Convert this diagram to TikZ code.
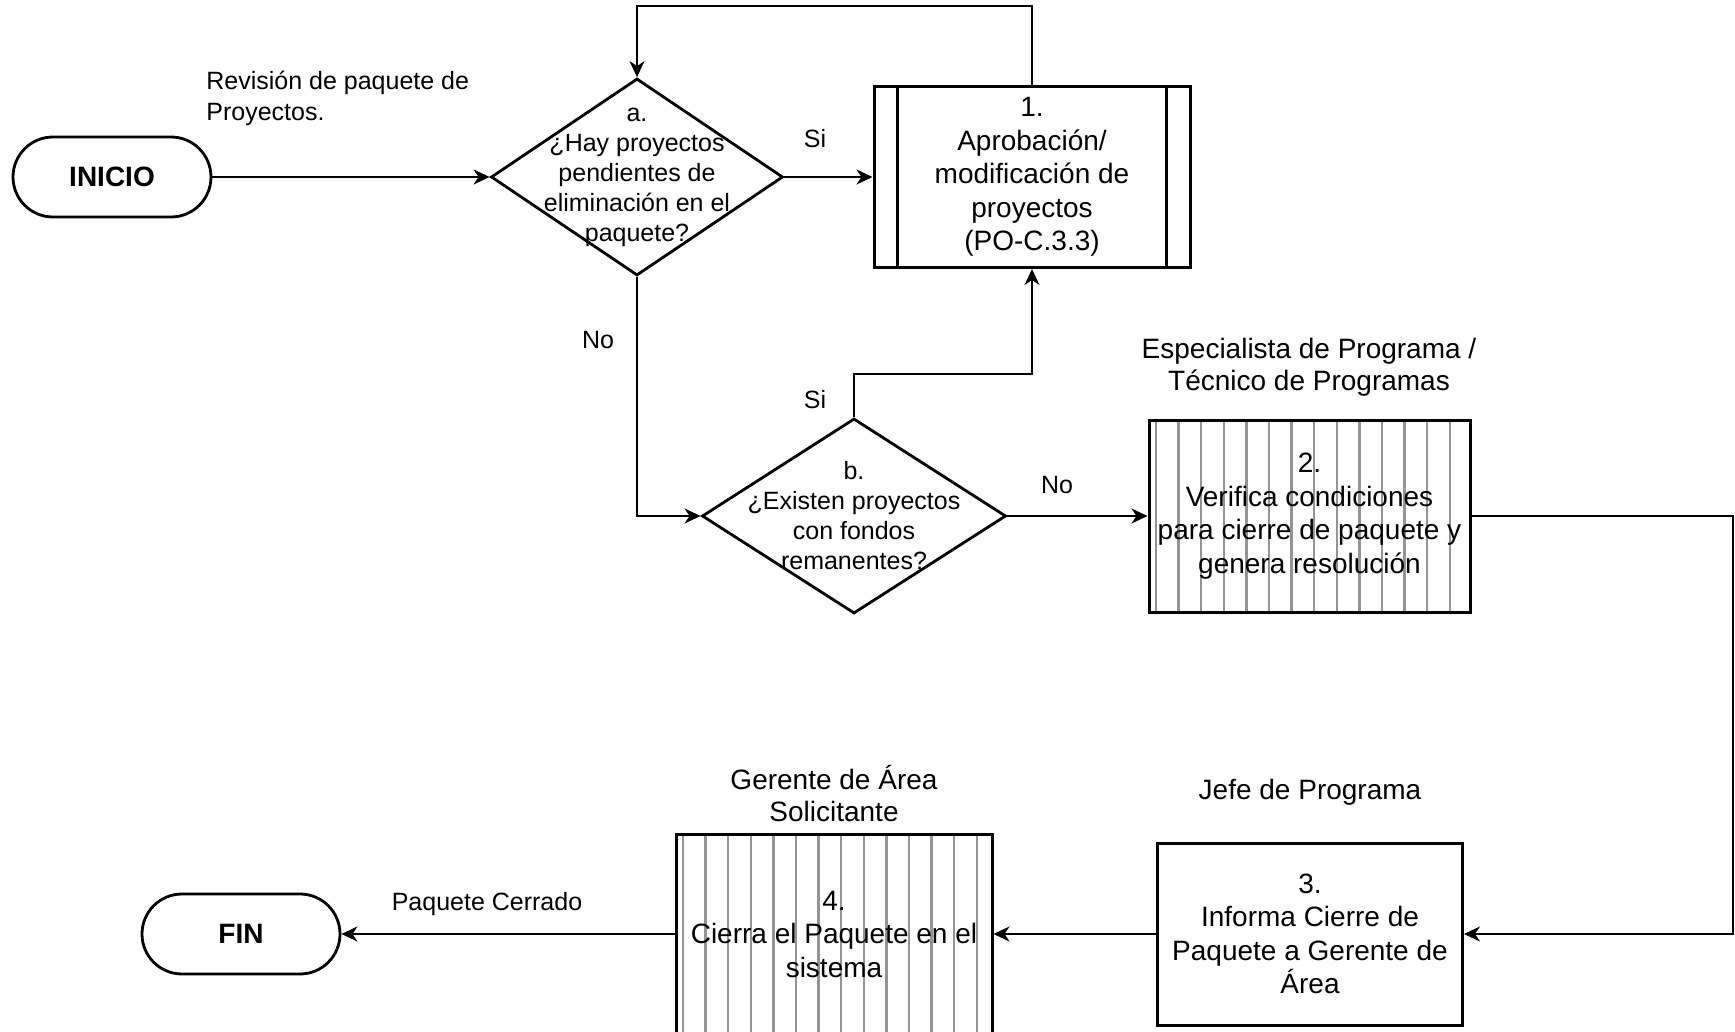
\documentclass[tikz,border=0pt]{standalone}
\usepackage{fontspec}
\setmainfont{Liberation Sans}
\usetikzlibrary{
  shapes.geometric,%
  arrows.meta,%
  calc
}
\tikzset{>={Stealth[length=8pt,width=7.5pt,inset=2.5pt]}}
\tikzset{
  terminal/.style={draw, line width=1.4pt, rectangle, rounded corners=20pt,
    minimum width=99pt, minimum height=40pt, inner sep=0pt,
    font=\fontsize{14}{16}\selectfont\bfseries},
  decision/.style={draw, line width=1.4pt, diamond, inner sep=0pt},
  dtext/.style={align=center, inner sep=0pt, font=\fontsize{12.5}{15}\selectfont},
  process/.style={draw, line width=1.5pt, rectangle, inner sep=0pt, align=center,
    font=\fontsize{14}{16.75}\selectfont},
  % subprocess: double side bars
  subprocess/.style={process, path picture={
      \draw[line width=1.4pt] ([xshift=11.75pt]path picture bounding box.north west)
        -- ([xshift=11.75pt]path picture bounding box.south west);
      \draw[line width=1.4pt] ([xshift=-11.75pt]path picture bounding box.north east)
        -- ([xshift=-11.75pt]path picture bounding box.south east);}},
  % hatched: grey vertical lines
  hatched/.style={process, path picture={
      \foreach \k in {0,...,13}
        \draw[black!42, line width=1.2pt]
          ([xshift=3.5pt+\k*11.3pt]path picture bounding box.north west)
          -- ([xshift=3.5pt+\k*11.3pt]path picture bounding box.south west);}},
  lbl/.style={inner sep=0pt, align=left, font=\fontsize{12.5}{15.5}\selectfont},
  role/.style={inner sep=0pt, align=center, font=\fontsize{14}{16}\selectfont},
  flow/.style={->, line width=0.9pt},
  thinflow/.style={->, line width=0.6pt}
}

\begin{document}
\begin{tikzpicture}[x=0.5pt, y=-0.5pt]
  \useasboundingbox (0,0) rectangle (1735,1032);

  % start / end
  \node[terminal] (inicio) at (112,177) {INICIO};
  \node[terminal] (fin) at (241,934) {FIN};

  % decisions
  \node[decision, minimum width=146pt, minimum height=98.5pt] (a) at (637,177) {};
  \node[dtext] (atext) at (a) {a.\\¿Hay proyectos\\pendientes de\\eliminación en el\\paquete?};
  \node[decision, minimum width=152pt, minimum height=97.5pt] (b) at (854,516) {};
  \node[dtext] (btext) at (b) {b.\\¿Existen proyectos\\con fondos\\remanentes?};

  % activities
  \node[subprocess, minimum width=158pt, minimum height=90.5pt] (act1) at (1032,177)
    {1.\\Aprobación/\\modificación de\\proyectos\\(PO-C.3.3)};
  \node[hatched, minimum width=160.5pt, minimum height=96pt] (act2) at (1309.5,516)
    {2.\\Verifica condiciones\\para cierre de paquete y\\genera resolución};
  \node[process, minimum width=152.5pt, minimum height=91pt] (act3) at (1310,934)
    {3.\\Informa Cierre de\\Paquete a Gerente de\\Área};
  \node[hatched, minimum width=158pt, minimum height=100pt] (act4) at (834,934)
    {4.\\Cierra el Paquete en el\\sistema};

  % roles
  \node[role] (rol2) at (1309,367) {Especialista de Programa /\\Técnico de Programas};
  \node[role] (rol3) at (1310,792) {Jefe de Programa};
  \node[role] (rol4) at (834,793) {Gerente de Área\\Solicitante};

  % labels
  \node[lbl, anchor=west] (rev) at (206,98) {Revisión de paquete de\\Proyectos.};
  \node[lbl] (siA) at (815,139) {Si};
  \node[lbl] (noA) at (598,340) {No};
  \node[lbl] (siB) at (815,400) {Si};
  \node[lbl] (noB) at (1057,485) {No};
  \node[lbl] (cerrado) at (487,904) {Paquete Cerrado};

  % bend points
  \coordinate (looptop) at (637,6);
  \coordinate (sijoin) at (1032,374);
  \coordinate (rcorner) at (1733,934);

  % connectors
  \draw[flow] (inicio.east) -- (a.west);
  \draw[flow] (a.east) -- (act1.west);
  \draw[thinflow] (act1.north) |- (looptop) -- (a.north);
  \draw[flow] (a.south) |- (b.west);
  \draw[thinflow] (b.north) |- (sijoin) -- (act1.south);
  \draw[flow] (b.east) -- (act2.west);
  \draw[flow] (act2.east) -| (rcorner) -- (act3.east);
  \draw[flow] (act3.west) -- (act4.east);
  \draw[flow] (act4.west) -- (fin.east);
\end{tikzpicture}
\end{document}
